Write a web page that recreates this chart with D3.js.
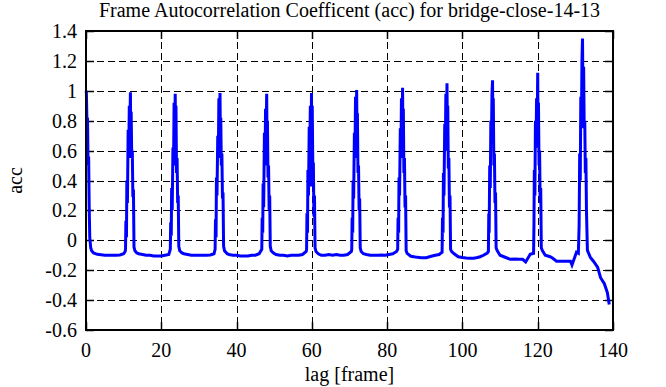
<!DOCTYPE html>
<html><head><meta charset="utf-8">
<script src="https://cdn.jsdelivr.net/npm/d3@7"></script>
<style>body{margin:0;background:#fff}svg{display:block}</style>
</head><body>
<script>
const title = "Frame Autocorrelation Coefficent (acc) for bridge-close-14-13";
const xLabel = "lag [frame]";
const yLabel = "acc";
const xTicks = [0,20,40,60,80,100,120,140];
const yTicks = [-0.6,-0.4,-0.2,0,0.2,0.4,0.6,0.8,1,1.2,1.4];

const lags = [
 0,0.1,0.25,0.4,0.55,0.7,0.85,1.0,1.25,1.5,2,3,4,5,6,7,8,9,10,10.4,
 10.5,10.6,10.75,10.85,11.0,11.2,11.35,11.5,11.65,11.8,11.9,12.0,12.15,12.3,12.45,12.6,12.75,13.0,
 13.5,14,15,16,17,18,19,20,21,22,
 22.4,22.5,22.65,22.75,22.9,23.1,23.25,23.4,23.55,23.7,23.8,23.9,24.05,24.2,24.35,24.5,24.65,24.9,
 25.5,26,27,28,29,30,31,32,33,34,
 34.3,34.4,34.55,34.65,34.8,35.0,35.15,35.3,35.45,35.6,35.7,35.8,35.95,36.1,36.25,36.4,36.55,36.8,
 37.5,38,39,40,41,42,43,44,45,46,
 46.7,46.8,46.95,47.05,47.2,47.4,47.55,47.7,47.85,48.0,48.1,48.2,48.35,48.5,48.65,48.8,48.95,49.2,
 49.8,50.5,51.5,52.5,53.5,54.5,55.5,56.5,57.5,58.5,
 58.6,58.7,58.85,58.95,59.1,59.3,59.45,59.6,59.75,59.9,60.0,60.1,60.25,60.4,60.55,60.7,60.85,61.1,
 61.7,62.5,63.5,64.5,65.5,66.5,67.5,68.5,69.5,70.5,
 70.6,70.7,70.85,70.95,71.1,71.3,71.45,71.6,71.75,71.9,72.0,72.1,72.25,72.4,72.55,72.7,72.85,73.1,
 73.7,74.5,75.5,76.5,77.5,78.5,79.5,80.5,81.5,82.5,
 82.8,82.9,83.05,83.15,83.3,83.5,83.65,83.8,83.95,84.1,84.2,84.3,84.45,84.6,84.75,84.9,85.05,85.3,
 86.3,87.5,89,90.4,91.7,92.8,93.8,94.6,
 94.7,94.85,94.95,95.1,95.3,95.45,95.6,95.75,95.9,96.0,96.1,96.25,96.4,96.55,96.7,96.85,97.1,
 97.8,98.9,100,101,102,103,104,104.7,105.6,106.6,106.9,
 107.0,107.1,107.25,107.4,107.55,107.7,107.85,108.0,108.1,108.2,108.35,108.5,108.65,108.8,108.95,109.2,
 109.5,110,111,112,112.7,114,115,116,116.8,118,118.9,
 119.0,119.1,119.25,119.4,119.55,119.7,119.85,120.0,120.1,120.2,120.35,120.5,120.65,120.8,120.95,121.2,
 122,123.3,124,125,126,127,128,128.7,129.1,130.3,130.8,
 131.0,131.15,131.3,131.45,131.6,131.75,131.9,132.05,132.2,132.35,132.5,132.65,132.8,132.95,133.2,
 134,134.8,135.9,136.7,137.7,138.5,139
];
const acc = [
 1.0,0.99,0.8,0.82,0.5,0.56,0.22,0.02,-0.05,-0.07,-0.085,-0.094,-0.097,-0.1,-0.1,-0.1,-0.1,-0.098,-0.09,-0.075,
 -0.06,0.13,0.02,0.4,0.25,0.74,0.55,0.9,0.75,0.99,0.62,0.86,0.55,0.6,0.29,0.34,-0.045,-0.07,
 -0.085,-0.09,-0.095,-0.1,-0.1,-0.105,-0.105,-0.105,-0.1,-0.095,
 -0.06,0.12,0.03,0.35,0.2,0.62,0.5,0.92,0.6,0.98,0.7,0.9,0.45,0.55,0.25,0.3,-0.04,-0.07,
 -0.085,-0.09,-0.095,-0.1,-0.1,-0.1,-0.1,-0.1,-0.098,-0.09,
 -0.06,0.14,0.02,0.42,0.3,0.7,0.55,0.95,0.8,0.985,0.66,0.82,0.5,0.58,0.28,0.32,-0.04,-0.07,
 -0.09,-0.095,-0.1,-0.1,-0.105,-0.105,-0.105,-0.1,-0.1,-0.09,
 -0.06,0.15,0.05,0.38,0.22,0.72,0.5,0.88,0.7,0.98,0.6,0.8,0.42,0.5,0.2,0.3,-0.04,-0.07,
 -0.085,-0.095,-0.1,-0.1,-0.105,-0.1,-0.1,-0.1,-0.095,-0.075,
 -0.06,0.18,0.05,0.47,0.3,0.76,0.6,0.9,0.36,0.985,0.55,0.9,0.5,0.52,0.16,0.3,-0.05,-0.075,
 -0.09,-0.1,-0.1,-0.095,-0.1,-0.095,-0.1,-0.1,-0.095,-0.075,
 -0.06,0.15,0.05,0.4,0.28,0.72,0.55,0.96,0.65,1.005,0.7,0.85,0.45,0.5,0.2,0.28,-0.05,-0.075,
 -0.09,-0.095,-0.1,-0.1,-0.1,-0.098,-0.1,-0.095,-0.09,-0.075,
 -0.06,0.15,0.05,0.42,0.3,0.75,0.55,0.95,0.6,1.02,0.65,0.88,0.45,0.55,0.22,0.3,-0.07,-0.087,
 -0.107,-0.112,-0.116,-0.116,-0.107,-0.1,-0.095,-0.08,
 0.15,0.05,0.45,0.3,0.78,0.6,0.98,0.7,1.05,0.72,0.9,0.48,0.55,0.22,0.3,-0.06,-0.074,
 -0.09,-0.11,-0.115,-0.118,-0.12,-0.12,-0.115,-0.11,-0.1,-0.085,-0.075,
 0.18,0.05,0.5,0.35,0.8,0.65,0.98,1.07,0.75,0.95,0.5,0.58,0.25,0.32,-0.05,-0.067,
 -0.08,-0.1,-0.11,-0.12,-0.127,-0.125,-0.127,-0.127,-0.145,-0.094,-0.087,
 0.1,0.47,0.3,0.8,0.62,0.95,0.75,1.12,0.62,0.92,0.5,0.6,0.25,0.35,-0.05,-0.067,
 -0.1,-0.11,-0.12,-0.14,-0.14,-0.14,-0.14,-0.14,-0.165,-0.08,-0.087,
 0.1,0.58,0.4,0.96,0.75,1.2,1.35,0.9,1.16,0.75,0.8,0.45,0.55,0.2,-0.067,
 -0.115,-0.14,-0.18,-0.25,-0.29,-0.35,-0.43
];

const FONT = "'Liberation Serif', 'DejaVu Serif', serif";
const W = 666, H = 387;
const L = 86, R = 613, T = 31, B = 330;
const svg = d3.select("body").append("svg").attr("width", W).attr("height", H)
  .style("font-family", FONT);
const x = d3.scaleLinear().domain([0,140]).range([L,R]);
const y = d3.scaleLinear().domain([-0.6,1.4]).range([B,T]);

// grid
const g = svg.append("g");
g.selectAll(".vg").data(xTicks.slice(1,-1)).join("line")
 .attr("x1", d=>Math.round(x(d))+0.5).attr("x2", d=>Math.round(x(d))+0.5)
 .attr("y1", T).attr("y2", B).attr("stroke","#000").attr("stroke-width",1).attr("stroke-dasharray","7,4");
g.selectAll(".hg").data(yTicks.slice(1,-1)).join("line")
 .attr("y1", d=>Math.round(y(d))+0.5).attr("y2", d=>Math.round(y(d))+0.5)
 .attr("x1", L).attr("x2", R).attr("stroke","#000").attr("stroke-width",1).attr("stroke-dasharray","7,4");

// ticks (inward, mirrored)
const tl = 8;
xTicks.forEach(d=>{
  const px = Math.round(x(d))+0.5;
  g.append("line").attr("x1",px).attr("x2",px).attr("y1",B).attr("y2",B-tl).attr("stroke","#000").attr("stroke-width",1.5);
  g.append("line").attr("x1",px).attr("x2",px).attr("y1",T).attr("y2",T+tl).attr("stroke","#000").attr("stroke-width",1.5);
});
yTicks.forEach(d=>{
  const py = Math.round(y(d))+0.5;
  g.append("line").attr("x1",L).attr("x2",L+tl).attr("y1",py).attr("y2",py).attr("stroke","#000").attr("stroke-width",1.5);
  g.append("line").attr("x1",R).attr("x2",R-tl).attr("y1",py).attr("y2",py).attr("stroke","#000").attr("stroke-width",1.5);
});

// data line
const pts = lags.map((l,i)=>[l, acc[i]]);
svg.append("path").datum(pts)
 .attr("d", d3.line().x(d=>x(d[0])).y(d=>y(d[1])))
 .attr("fill","none").attr("stroke","#0000ff").attr("stroke-width",3).attr("stroke-linejoin","miter");

// frame
svg.append("rect").attr("x",L).attr("y",T).attr("width",R-L).attr("height",B-T)
 .attr("fill","none").attr("stroke","#000").attr("stroke-width",2);

// tick labels
const fmt = d => String(d);
svg.selectAll(".xl").data(xTicks).join("text")
 .attr("font-family", FONT)
 .attr("x", d=>x(d)).attr("y", 357).attr("text-anchor","middle").attr("font-size",20).text(fmt);
svg.selectAll(".yl").data(yTicks).join("text")
 .attr("font-family", FONT)
 .attr("x", 77).attr("y", d=>y(d)+7).attr("text-anchor","end").attr("font-size",20).text(fmt);

svg.append("text").attr("font-family", FONT).attr("x",(L+R)/2).attr("y",17).attr("text-anchor","middle").attr("font-size",20).text(title);
svg.append("text").attr("font-family", FONT).attr("x",(L+R)/2).attr("y",381).attr("text-anchor","middle").attr("font-size",20).text(xLabel);
svg.append("text").attr("font-family", FONT).attr("transform",`translate(22,${(T+B)/2}) rotate(-90)`).attr("text-anchor","middle").attr("font-size",20).text(yLabel);
</script>
</body></html>
